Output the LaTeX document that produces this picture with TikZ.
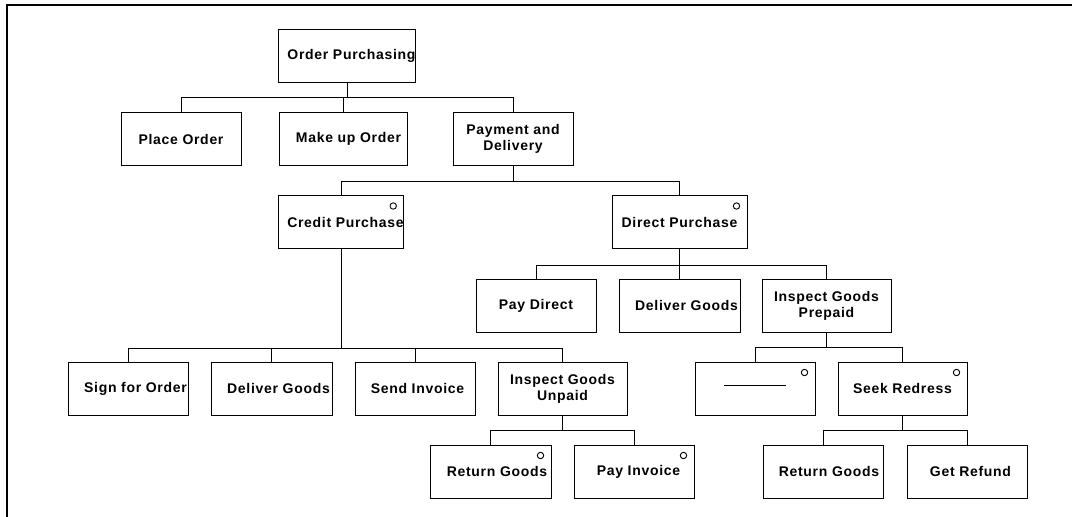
\documentclass[tikz,border=0pt]{standalone}
\usepackage{fontspec}
\newfontfamily\boxfont{Liberation Sans}[LetterSpace=5]
\newcommand\myshiftright[2]{\hspace*{#1pt}#2}
\begin{document}
\begin{tikzpicture}[x=1pt,y=-1pt,
  box/.style={draw, line width=1pt, minimum height=53pt, inner sep=0pt, align=center,
    font=\boxfont\bfseries\fontsize{14}{16}\selectfont},
  conn/.style={line width=1pt},
  frame/.style={line width=2pt}]
\useasboundingbox (0,0) rectangle (1072,517);
\coordinate (fb) at (7,517);
\coordinate (fc) at (7,5);
\coordinate (fr) at (1072,5);
\draw[frame] (fb) -- (fc) -- (fr);

% Row 1
\node[box, minimum width=136pt] (op) at (347,55.5) {\myshiftright{9}{Order Purchasing}};
% Row 2
\node[box, minimum width=120pt] (po) at (181,139) {Place Order};
\node[box, minimum width=128pt] (mo) at (343,139) {\myshiftright{11}{Make up Order}};
\node[box, minimum width=120pt] (pd) at (513,139) {Payment and\\Delivery};
% Row 3
\node[box, minimum width=124pt] (cp) at (341,222) {\myshiftright{9}{Credit Purchase}};
\node[box, minimum width=135pt] (dp) at (679.5,222) {Direct Purchase};
% Row 4
\node[box, minimum width=120pt] (pay) at (536,305.5) {Pay Direct};
\node[box, minimum width=121pt] (dga) at (679.5,305.5) {\myshiftright{14}{Deliver Goods}};
\node[box, minimum width=129pt] (igp) at (826.5,305.5) {Inspect Goods\\Prepaid};
% Row 5
\node[box, minimum width=120pt] (sfo) at (128,388.5) {\myshiftright{15}{Sign for Order}};
\node[box, minimum width=121pt] (dgb) at (271.5,388.5) {\myshiftright{14}{Deliver Goods}};
\node[box, minimum width=120pt] (si) at (415,388.5) {\myshiftright{5}{Send Invoice}};
\node[box, minimum width=129pt] (igu) at (562.5,388.5) {Inspect Goods\\Unpaid};
\node[box, minimum width=120pt] (blank) at (755,388.5) {};
\node[box, minimum width=129pt] (sr) at (902.5,388.5) {Seek Redress};
% Row 6
\node[box, minimum width=121pt] (rga) at (490.5,471.5) {\myshiftright{13}{Return Goods}};
\node[box, minimum width=120pt] (pi) at (634,471.5) {\myshiftright{9}{Pay Invoice}};
\node[box, minimum width=120pt] (rgb) at (823,471.5) {\myshiftright{12}{Return Goods}};
\node[box, minimum width=120pt] (gr) at (967,471.5) {\myshiftright{7}{Get Refund}};

% blank line inside empty box
\draw[line width=1pt] ([xshift=-31pt,yshift=3.5pt]blank.center) -- ([xshift=31pt,yshift=3.5pt]blank.center);

% option circles
\foreach \n in {cp,dp,blank,sr,rga,pi}
  \draw[line width=0.9pt] ([xshift=-11pt,yshift=-11pt]\n.north east) circle (3.2pt);

% connectors
\foreach \c in {po,mo,pd} \draw[conn] (op.south) -- ++(0,15) -| (\c.north);
\foreach \c in {cp,dp} \draw[conn] (pd.south) -- ++(0,15) -| (\c.north);
\foreach \c in {pay,dga,igp} \draw[conn] (dp.south) -- ++(0,16) -| (\c.north);
\foreach \c in {sfo,dgb,si,igu} \draw[conn] (cp.south) -- ++(0,99) -| (\c.north);
\foreach \c in {blank,sr} \draw[conn] (igp.south) -- ++(0,15) -| (\c.north);
\foreach \c in {rga,pi} \draw[conn] (igu.south) -- ++(0,15) -| (\c.north);
\foreach \c in {rgb,gr} \draw[conn] (sr.south) -- ++(0,15) -| (\c.north);
\end{tikzpicture}
\end{document}
